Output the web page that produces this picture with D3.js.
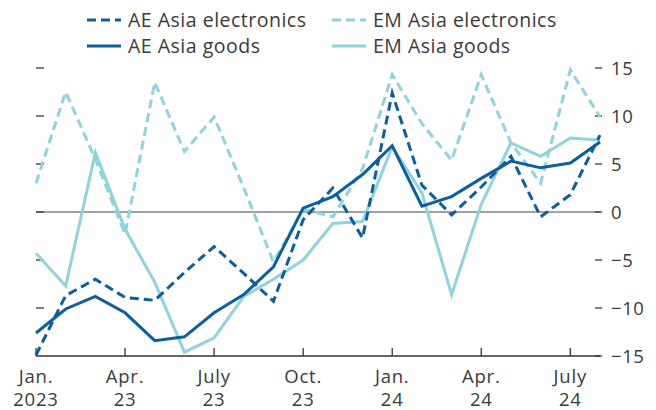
<!DOCTYPE html>
<html>
<head>
<meta charset="utf-8">
<script src="https://cdn.jsdelivr.net/npm/d3@7"></script>
<style>
  body { margin: 0; background: #fff; }
  svg { display: block; }
  text { font-family: "Open Sans", "Noto Sans", sans-serif; fill: #3a3a3a; }
</style>
</head>
<body>
<svg width="656" height="410"></svg>
<script>
'use strict';

// months Jan 2023 .. Aug 2024
var months = d3.range(20);
var tickMonths = [0, 3, 6, 9, 12, 15, 18];
var tickLabels = [['Jan.', '2023'], ['Apr.', '23'], ['July', '23'], ['Oct.', '23'],
                  ['Jan.', '24'], ['Apr.', '24'], ['July', '24']];
var yTicks = [-15, -10, -5, 0, 5, 10, 15];

var aeElectronics = [-14.9, -8.7, -7.0, -8.9, -9.2, -6.3, -3.6, -6.4, -9.3, -0.8,
                     2.5, -2.7, 12.4, 2.8, -0.3, 2.6, 5.8, -0.5, 1.8, 8.0];
var emElectronics = [3.0, 12.5, 5.5, -2.3, 13.5, 6.3, 9.9, 2.5, -5.2, 0.3,
                     -0.5, 4.5, 14.3, 9.2, 5.4, 14.3, 7.2, 3.0, 14.8, 9.9];
var aeGoods = [-12.6, -10.1, -8.8, -10.5, -13.4, -13.0, -10.5, -8.6, -5.7, 0.4,
               1.6, 3.9, 6.9, 0.6, 1.6, 3.5, 5.3, 4.6, 5.1, 7.3];
var emGoods = [-4.3, -7.7, 6.2, -1.8, -7.3, -14.6, -13.1, -8.8, -7.0, -5.0,
               -1.2, -1.0, 6.8, 2.0, -8.6, 0.8, 7.2, 5.8, 7.7, 7.5];

var DARK = '#0b5f9e';
var LIGHT = '#8fd3dc';

var series = [
    { name: 'EM Asia electronics', values: emElectronics, color: LIGHT, dash: '9,5' },
    { name: 'EM Asia goods', values: emGoods, color: LIGHT, dash: null },
    { name: 'AE Asia electronics', values: aeElectronics, color: DARK, dash: '9,5' },
    { name: 'AE Asia goods', values: aeGoods, color: DARK, dash: null }
];

var svg = d3.select('svg');

var x = d3.scaleLinear().domain([0, 19]).range([36, 600]);
var y = d3.scaleLinear().domain([-15, 15]).range([356, 68]);

// left ticks (no labels)
svg.append('g')
    .selectAll('line')
    .data(yTicks.filter(function(d) { return d !== -15; }))
    .enter()
    .append('line')
    .attr('x1', 36).attr('x2', 44)
    .attr('y1', function(d) { return y(d); })
    .attr('y2', function(d) { return y(d); })
    .attr('stroke', '#333').attr('stroke-width', 1.3);

// right axis
var axisR = svg.append('g');
axisR.selectAll('line')
    .data(yTicks)
    .enter()
    .append('line')
    .attr('x1', 595).attr('x2', 602)
    .attr('y1', function(d) { return y(d); })
    .attr('y2', function(d) { return y(d); })
    .attr('stroke', '#333').attr('stroke-width', 1.3);
axisR.selectAll('text')
    .data(yTicks)
    .enter()
    .append('text')
    .attr('x', 611)
    .attr('y', function(d) { return y(d); })
    .attr('dy', '0.36em')
    .attr('font-size', 18.5)
    .attr('letter-spacing', 0.6)
    .text(function(d) { return d < 0 ? '\u2212' + Math.abs(d) : d; });

// zero line and bottom axis
svg.append('line')
    .attr('x1', 36).attr('x2', 600)
    .attr('y1', y(0)).attr('y2', y(0))
    .attr('stroke', '#444').attr('stroke-width', 1.2);
svg.append('line')
    .attr('x1', 36).attr('x2', 600)
    .attr('y1', y(-15)).attr('y2', y(-15))
    .attr('stroke', '#333').attr('stroke-width', 1.3);

var xg = svg.append('g');
xg.selectAll('line')
    .data(tickMonths)
    .enter()
    .append('line')
    .attr('x1', function(d) { return x(d); })
    .attr('x2', function(d) { return x(d); })
    .attr('y1', y(-15)).attr('y2', y(-15) - 8)
    .attr('stroke', '#333').attr('stroke-width', 1.3);
var xl = xg.selectAll('text')
    .data(tickMonths)
    .enter()
    .append('text')
    .attr('text-anchor', 'middle')
    .attr('font-size', 18.5)
    .attr('letter-spacing', 0.8);
xl.append('tspan')
    .attr('x', function(d) { return x(d); })
    .attr('y', 383)
    .text(function(d, i) { return tickLabels[i][0]; });
xl.append('tspan')
    .attr('x', function(d) { return x(d); })
    .attr('y', 406)
    .text(function(d, i) { return tickLabels[i][1]; });

// lines
var line = d3.line()
    .x(function(d, i) { return x(months[i]); })
    .y(function(d) { return y(d); });

svg.append('g')
    .selectAll('path')
    .data(series)
    .enter()
    .append('path')
    .attr('d', function(s) { return line(s.values); })
    .attr('fill', 'none')
    .attr('stroke', function(s) { return s.color; })
    .attr('stroke-width', 3)
    .attr('stroke-linejoin', 'miter')
    .attr('stroke-dasharray', function(s) { return s.dash; });

// legend
var legendItems = [
    { name: 'AE Asia electronics', color: DARK, dash: '9,5', lx: 87, ly: 20 },
    { name: 'AE Asia goods', color: DARK, dash: null, lx: 87, ly: 46 },
    { name: 'EM Asia electronics', color: LIGHT, dash: '9,5', lx: 332, ly: 20 },
    { name: 'EM Asia goods', color: LIGHT, dash: null, lx: 332, ly: 46 }
];
var lg = svg.append('g').selectAll('g')
    .data(legendItems)
    .enter()
    .append('g');
lg.append('line')
    .attr('x1', function(d) { return d.lx; })
    .attr('x2', function(d) { return d.lx + 34; })
    .attr('y1', function(d) { return d.ly; })
    .attr('y2', function(d) { return d.ly; })
    .attr('stroke', function(d) { return d.color; })
    .attr('stroke-width', 3)
    .attr('stroke-dasharray', function(d) { return d.dash; });
lg.append('text')
    .attr('x', function(d) { return d.lx + 41; })
    .attr('y', function(d) { return d.ly; })
    .attr('dy', '0.36em')
    .attr('font-size', 19.5)
    .attr('letter-spacing', 0.5)
    .text(function(d) { return d.name; });
</script>
</body>
</html>
